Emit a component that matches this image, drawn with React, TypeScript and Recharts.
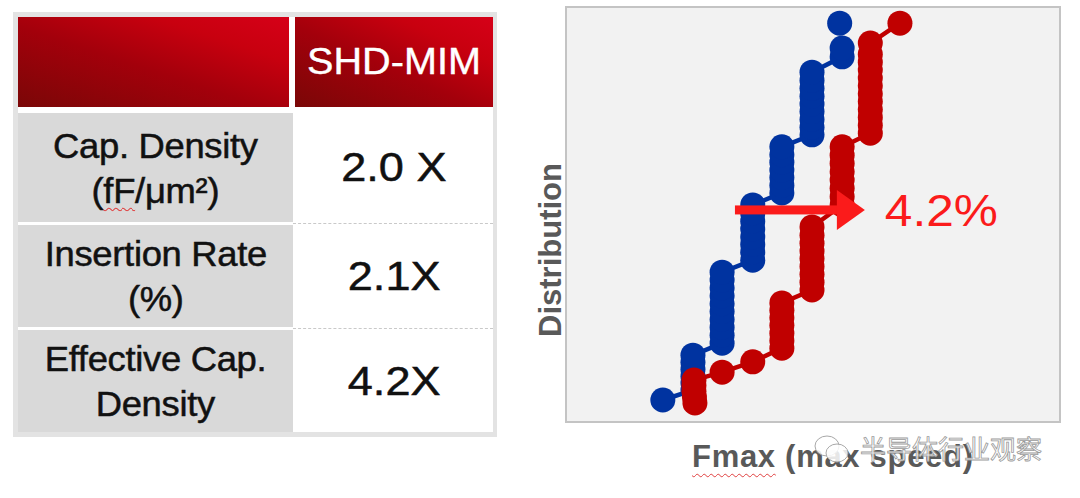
import React from "react";
import {
  ComposedChart,
  Line,
  XAxis,
  YAxis,
  CartesianGrid,
  ReferenceArea,
  ReferenceLine,
} from "recharts";

// ---------- table data ----------
const headerLabel = "SHD-MIM";
const rowLabels: string[][] = [
  ["Cap. Density", "(fF/μm²)"],
  ["Insertion Rate", "(%)"],
  ["Effective Cap.", "Density"],
];
const rowValues = ["2.0 X", "2.1X", "4.2X"];

// ---------- chart data (Fmax position, cumulative distribution %) ----------
const bluePoints: { x: number; y: number | null }[] = [
  { x: 19.6, y: 5.3 },
  { x: 25.7, y: 7.7 },
  { x: 25.7, y: 9.4 },
  { x: 25.7, y: 11.0 },
  { x: 25.7, y: 12.7 },
  { x: 25.7, y: 14.4 },
  { x: 25.7, y: 16.1 },
  { x: 31.6, y: 19.0 },
  { x: 31.6, y: 20.9 },
  { x: 31.6, y: 22.8 },
  { x: 31.6, y: 24.7 },
  { x: 31.6, y: 26.6 },
  { x: 31.6, y: 28.5 },
  { x: 31.6, y: 30.4 },
  { x: 31.6, y: 32.3 },
  { x: 31.6, y: 34.2 },
  { x: 31.6, y: 36.1 },
  { x: 37.8, y: 39.0 },
  { x: 37.8, y: 40.9 },
  { x: 37.8, y: 42.8 },
  { x: 37.8, y: 44.6 },
  { x: 37.8, y: 46.5 },
  { x: 37.8, y: 48.4 },
  { x: 37.8, y: 50.3 },
  { x: 37.8, y: 52.3 },
  { x: 43.7, y: 55.2 },
  { x: 43.7, y: 57.0 },
  { x: 43.7, y: 58.9 },
  { x: 43.7, y: 60.7 },
  { x: 43.7, y: 62.6 },
  { x: 43.7, y: 64.4 },
  { x: 43.7, y: 66.3 },
  { x: 49.8, y: 69.2 },
  { x: 49.8, y: 71.0 },
  { x: 49.8, y: 72.9 },
  { x: 49.8, y: 74.8 },
  { x: 49.8, y: 76.6 },
  { x: 49.8, y: 78.5 },
  { x: 49.8, y: 80.4 },
  { x: 49.8, y: 82.3 },
  { x: 49.8, y: 84.3 },
  { x: 55.9, y: 88.0 },
  { x: 55.9, y: 90.1 },
  { x: 55.9, y: null },
  { x: 55.4, y: 96.1 },
];

const redPoints: { x: number; y: number }[] = [
  { x: 26.1, y: 4.6 },
  { x: 26.0, y: 6.0 },
  { x: 25.9, y: 7.4 },
  { x: 25.9, y: 8.8 },
  { x: 25.9, y: 10.1 },
  { x: 31.6, y: 12.0 },
  { x: 37.8, y: 14.5 },
  { x: 43.7, y: 17.8 },
  { x: 43.7, y: 19.6 },
  { x: 43.7, y: 21.4 },
  { x: 43.7, y: 23.3 },
  { x: 43.7, y: 25.1 },
  { x: 43.7, y: 26.9 },
  { x: 43.7, y: 28.7 },
  { x: 49.8, y: 31.8 },
  { x: 49.8, y: 33.7 },
  { x: 49.8, y: 35.6 },
  { x: 49.8, y: 37.5 },
  { x: 49.8, y: 39.4 },
  { x: 49.8, y: 41.2 },
  { x: 49.8, y: 43.1 },
  { x: 49.8, y: 45.0 },
  { x: 49.8, y: 47.0 },
  { x: 55.9, y: 52.3 },
  { x: 55.9, y: 54.3 },
  { x: 55.9, y: 56.3 },
  { x: 55.9, y: 58.3 },
  { x: 55.9, y: 60.3 },
  { x: 55.9, y: 62.3 },
  { x: 55.9, y: 64.3 },
  { x: 55.9, y: 66.3 },
  { x: 61.6, y: 69.6 },
  { x: 61.6, y: 71.5 },
  { x: 61.6, y: 73.4 },
  { x: 61.6, y: 75.3 },
  { x: 61.6, y: 77.2 },
  { x: 61.6, y: 79.1 },
  { x: 61.6, y: 81.0 },
  { x: 61.6, y: 82.9 },
  { x: 61.6, y: 84.8 },
  { x: 61.6, y: 86.7 },
  { x: 61.6, y: 88.6 },
  { x: 61.6, y: 91.3 },
  { x: 67.6, y: 96.1 },
];

// annotation: shift arrow
const arrowStart = { x: 34.2, y: 51.1 };
const arrowEnd = { x: 60.5, y: 51.1 };
const shiftLabel = "4.2%";

const xAxisTitle = "Fmax (max speed)";
const yAxisTitle = "Distribution";
const watermark = "半导体行业观察";

const BLUE = "#0033a0";
const RED = "#c00000";
const ARROW = "#fb1b1b";
const FONT = '"Liberation Sans", Arial, Helvetica, sans-serif';

const ArrowShape = (props: any) => {
  const { x1, y1, x2 } = props;
  const y = y1;
  const headLen = 28;
  const headHalf = 20;
  const shaft = 9;
  return (
    <g>
      <rect x={x1} y={y - shaft / 2} width={x2 - headLen - x1 + 1} height={shaft} fill={ARROW} />
      <polygon
        points={`${x2 - headLen},${y - headHalf} ${x2},${y} ${x2 - headLen},${y + headHalf}`}
        fill={ARROW}
      />
      <text
        x={x2 + 20}
        y={y + 16}
        fontSize={44}
        fontFamily={FONT}
        fill={ARROW}
        textLength={113}
        lengthAdjust="spacingAndGlyphs"
      >
        {shiftLabel}
      </text>
    </g>
  );
};

const headerGradient =
  "linear-gradient(to top right, #7a0707 0%, #a3000b 45%, #c8000f 75%, #d60018 100%)";

const bodyText = { WebkitTextStroke: "0.5px #111111" } as React.CSSProperties;

function Table() {
  const rowTops = [113, 225, 330];
  const rowHeights = [109, 102, 102];
  return (
    <>
      <div style={{ position: "absolute", left: 13, top: 12, width: 484, height: 425, background: "#e3e3e3" }} />
      <div style={{ position: "absolute", left: 18, top: 17, width: 475, height: 415, background: "#ffffff" }} />
      <div style={{ position: "absolute", left: 18, top: 17, width: 271, height: 90, background: headerGradient }} />
      <div
        style={{
          position: "absolute",
          left: 295,
          top: 17,
          width: 198,
          height: 90,
          background: headerGradient,
          display: "flex",
          alignItems: "center",
          justifyContent: "center",
          color: "#ffffff",
          fontFamily: FONT,
          fontSize: 36,
        }}
      >
        <span style={{ display: "inline-block", transform: "scaleX(1.1)", whiteSpace: "nowrap", WebkitTextStroke: "0.4px #ffffff" }}>
          {headerLabel}
        </span>
      </div>
      {rowLabels.map((lines, i) => (
        <React.Fragment key={i}>
          <div
            style={{
              position: "absolute",
              left: 18,
              top: rowTops[i],
              width: 275,
              height: rowHeights[i],
              background: "#d9d9d9",
              display: "flex",
              flexDirection: "column",
              alignItems: "center",
              justifyContent: "center",
              fontFamily: FONT,
              fontSize: 35,
              lineHeight: "45px",
              color: "#111111",
            }}
          >
            {lines.map((t, j) => (
              <span
                key={j}
                style={{ display: "inline-block", transform: "scaleX(1.04)", whiteSpace: "nowrap", letterSpacing: "-0.3px", ...bodyText }}
              >
                {t.startsWith("(fF") ? (
                  <>
                    (
                    <span style={{ textDecoration: "underline wavy #e04040", textDecorationThickness: "1px", textUnderlineOffset: "4px" }}>
                      fF
                    </span>
                    {t.slice(3)}
                  </>
                ) : (
                  t
                )}
              </span>
            ))}
          </div>
          <div
            style={{
              position: "absolute",
              left: 295,
              top: rowTops[i],
              width: 198,
              height: rowHeights[i],
              background: "#ffffff",
              display: "flex",
              alignItems: "center",
              justifyContent: "center",
              fontFamily: FONT,
              fontSize: 41,
              color: "#111111",
            }}
          >
            <span style={{ display: "inline-block", transform: "scaleX(1.1)", whiteSpace: "nowrap", ...bodyText }}>{rowValues[i]}</span>
          </div>
        </React.Fragment>
      ))}
      {[223, 328].map((y) => (
        <div
          key={y}
          style={{ position: "absolute", left: 293, top: y, width: 200, height: 0, borderTop: "1.5px dashed #c9c9c9" }}
        />
      ))}
    </>
  );
}

export default function App() {
  return (
    <div style={{ position: "absolute", left: 0, top: 0, width: 1080, height: 498, background: "#ffffff", overflow: "hidden" }}>
      <Table />
      <div style={{ position: "absolute", left: 0, top: 0 }}>
        <ComposedChart width={1080} height={498} margin={{ top: 7, right: 20, bottom: 76, left: 566 }}>
          <CartesianGrid fill="#f2f2f2" horizontal={false} vertical={false} stroke="none" />
          <XAxis type="number" dataKey="x" domain={[0, 100]} hide allowDataOverflow />
          <YAxis type="number" domain={[0, 100]} hide allowDataOverflow />
          <ReferenceArea x1={0} x2={100} y1={0} y2={100} fill="none" stroke="#c4c4c4" strokeWidth={2} />
          <Line
            data={bluePoints}
            dataKey="y"
            type="linear"
            stroke={BLUE}
            strokeWidth={4.5}
            dot={{ r: 12.5, fill: BLUE, stroke: BLUE, strokeWidth: 0 }}
            activeDot={false}
            isAnimationActive={false}
            connectNulls={false}
          />
          <Line
            data={redPoints}
            dataKey="y"
            type="linear"
            stroke={RED}
            strokeWidth={4.5}
            dot={{ r: 12.5, fill: RED, stroke: RED, strokeWidth: 0 }}
            activeDot={false}
            isAnimationActive={false}
          />
          <ReferenceLine
            segment={[arrowStart, arrowEnd]}
            stroke={ARROW}
            shape={ArrowShape}
            ifOverflow="visible"
            zIndex={1500}
          />
        </ComposedChart>
      </div>
      <div
        style={{
          position: "absolute",
          left: 550,
          top: 250,
          transform: "translate(-50%, -50%) rotate(-90deg)",
          whiteSpace: "nowrap",
          fontFamily: FONT,
          fontWeight: "bold",
          fontSize: 31,
          lineHeight: "31px",
          color: "#595959",
        }}
      >
        {yAxisTitle}
      </div>
      <div
        style={{
          position: "absolute",
          left: 692,
          top: 441,
          whiteSpace: "nowrap",
          fontFamily: FONT,
          fontWeight: "bold",
          fontSize: 31,
          lineHeight: "31px",
          letterSpacing: "0.7px",
          color: "#595959",
        }}
      >
        <span style={{ textDecoration: "underline wavy #e04040", textDecorationThickness: "1px", textUnderlineOffset: "6px" }}>Fmax</span>
        {xAxisTitle.slice(4)}
      </div>
      <svg style={{ position: "absolute", left: 812, top: 432 }} width={40} height={36}>
        <ellipse cx={15} cy={14} rx={12} ry={10} fill="rgba(255,255,255,0.85)" stroke="#a8a8a8" strokeWidth={1} />
        <ellipse cx={25} cy={21} rx={11} ry={9} fill="rgba(255,255,255,0.85)" stroke="#a8a8a8" strokeWidth={1} />
      </svg>
      <div
        style={{
          position: "absolute",
          left: 860,
          top: 433,
          whiteSpace: "nowrap",
          fontFamily: '"Noto Sans CJK SC", sans-serif',
          fontSize: 26,
          lineHeight: "30px",
          color: "rgba(255,255,255,0.9)",
          WebkitTextStroke: "0.8px #9a9a9a",
        }}
      >
        {watermark}
      </div>
    </div>
  );
}
